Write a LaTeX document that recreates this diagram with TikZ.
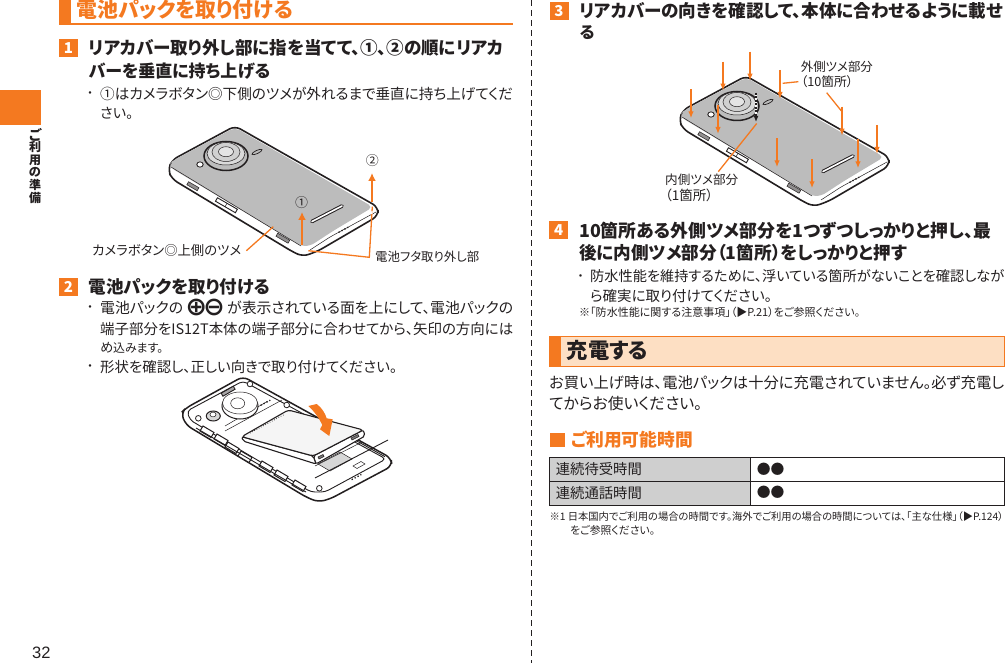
\documentclass[tikz,border=0pt]{standalone}
\usepackage{fontspec}
\setmainfont{Noto Sans CJK JP}[RawFeature=+palt, BoldFont={Noto Sans CJK JP Black}]
\newfontfamily\symfont{DejaVu Sans}
\newfontfamily\numfont{Liberation Sans}
\usetikzlibrary{arrows.meta}
\definecolor{pageorange}{HTML}{F47920}
\definecolor{inkdark}{HTML}{231F20}
\definecolor{phonegray}{HTML}{BCBCBC}
\definecolor{headpeach}{HTML}{FDDFC3}
\definecolor{cellgray}{HTML}{CFCFCF}
% text line stretched to the width it has on the page
\newcommand{\fitw}[2]{\resizebox{#1pt}{!}{\rule[-.12em]{0pt}{.88em}#2}}
\tikzset{
    linetext/.style={anchor=west, inner sep=0pt, text=inkdark},
    headtext/.style={linetext, font=\bfseries},
    orangehead/.style={linetext, text=pageorange, font=\bfseries},
    stepbadge/.style={fill=pageorange, text=white, font=\bfseries\fontsize{15}{15}\selectfont, inner sep=0pt, minimum width=19pt, minimum height=18pt},
    leader/.style={draw=pageorange, line width=1.3pt},
    liftarrow/.style={draw=pageorange, line width=1.8pt, -{Latex[length=8pt,width=8pt]}},
    pressarrow/.style={draw=pageorange, line width=1.6pt, -{Latex[length=7pt,width=5.5pt]}},
    partline/.style={draw=inkdark, line width=0.5pt},
    wallline/.style={draw=inkdark, line width=0.9pt},
    phoneback/.pic={
        % body
        \draw[fill=white, draw=inkdark, line width=1.6pt, rounded corners=6pt]
            (235,126) -- (378,207) -- (378,216) -- (318,251) -- (303,256.5) -- (293,252) -- (172,179) -- (168,170) -- (172,160) -- cycle;
        \fill[phonegray, rounded corners=5pt]
            (235,127.5) -- (373,207) -- (333,231) -- (310,246) -- (301,246) -- (171,168) -- (170,164) -- (173,160.5) -- cycle;
        \draw[partline] (171,167) -- (301,246);
        \draw[partline, rounded corners=4pt] (376,212) -- (330,237) -- (310,250);
        % lens and flash
        \draw[fill=phonegray, draw=inkdark, line width=1.5pt] (226,156) ellipse [x radius=22pt, y radius=14.5pt];
        \draw[fill=phonegray!55!white, partline] (226,153.5) ellipse [x radius=19pt, y radius=11.5pt];
        \draw[fill=phonegray!70!white, partline] (226,152) ellipse [x radius=14pt, y radius=9.5pt];
        \draw[fill=phonegray!40!white, partline] (226,151.7) ellipse [x radius=7.5pt, y radius=5pt];
        \draw[fill=white, draw=inkdark, line width=0.8pt] (200,164.5) ellipse [x radius=3.2pt, y radius=2.6pt];
        \draw[partline, line width=0.7pt, rotate around={25:(257,152)}] (257,152) ellipse [x radius=5.5pt, y radius=1.6pt];
        % speaker
        \draw[draw=inkdark, line width=3.6pt, line cap=round] (312,221.5) -- (342,206);
        \draw[white, line width=1.6pt, line cap=round] (312,221.5) -- (342,206);
        % side buttons
        \draw[fill=inkdark!50, partline, rotate around={-30:(193,186)}] (187,184.5) rectangle (199,188);
        \draw[fill=white, wallline, rotate around={-30:(226,205)}] (215,203) rectangle (238,207);
        \draw[partline, rotate around={-30:(226,205)}] (226,203) -- (226,207);
        \draw[fill=inkdark!50, partline, rotate around={-30:(283,238)}] (276,236.5) rectangle (290,240);
        \draw[line width=1.3pt, inkdark, dotted, rotate around={28:(343,230)}] (338,230) -- (349,230);
    }
}
\begin{document}
\begin{tikzpicture}[x=1pt, y=-1pt]
    \useasboundingbox (0,0) rectangle (1005,663);

    % Side tab and page frame
    \fill[pageorange] (0,90) rectangle (41,125);
    \foreach \c [count=\i] in {ご,利,用,の,準,備}
        \node (side\i) [inner sep=0pt, text=inkdark, font=\bfseries] at (35,{134.5+(\i-1)*12.7}) {\resizebox{12pt}{!}{\c}};
    \node (pagenum) [inner sep=0pt, text=inkdark, font=\numfont\fontsize{16.5}{16.5}\selectfont] at (41.3,653) {32};
    \draw[inkdark, line width=0.7pt, dash pattern=on 6pt off 4pt] (531.3,0) -- (531.3,663);

    % Left column: section title
    \fill[pageorange] (59,0) rectangle (71,25);
    \fill[pageorange] (59,23) rectangle (513,25);
    \node (titlepack) [orangehead] at (76.7,10) {\fitw{216}{電池パックを取り付ける}};

    % Step 1
    \node (stepone) [stepbadge] at (68.5,48) {1};
    \node (oneheadA) [headtext] at (88.5,48.5) {\fitw{415}{リアカバー取り外し部に指を当てて、①、②の順にリアカ}};
    \node (oneheadB) [headtext] at (88.5,71) {\fitw{181.5}{バーを垂直に持ち上げる}};
    \node (onedot) [linetext] at (87,94) {\fitw{6}{・}};
    \node (onetextA) [linetext] at (100,94) {\fitw{413}{①はカメラボタン◎下側のツメが外れるまで垂直に持ち上げてくだ}};
    \node (onetextB) [linetext] at (100,114) {\fitw{33}{さい。}};

    % Phone, back view
    \pic at (0,0) {phoneback};
    \draw[liftarrow] (302,245) -- (302,212);
    \draw[liftarrow] (372,201.7) -- (372,173);
    \node (markone) [inner sep=0pt, text=inkdark] at (301.7,202.7) {\fitw{13}{①}};
    \node (marktwo) [inner sep=0pt, text=inkdark] at (372.3,160.7) {\fitw{13}{②}};
    \node (labelcamera) [linetext] at (92,250.7) {\fitw{149}{カメラボタン◎上側のツメ}};
    \node (labelcover) [linetext] at (375,257) {\fitw{104}{電池フタ取り外し部}};
    \coordinate (tabtop) at (273.3,226.7);
    \coordinate (coverfork) at (369.3,257.3);
    \draw[leader] ([xshift=5pt]labelcamera.east) -- (tabtop);
    \draw[leader] (308.3,250.7) -- (coverfork) -- (372.3,206.7);
    \draw[white, line width=1.4pt] (372,211) -- (371.8,214);

    % Step 2
    \node (steptwo) [stepbadge] at (68.5,287) {2};
    \node (twohead) [headtext] at (88.5,287) {\fitw{181.5}{電池パックを取り付ける}};
    \node (twodotA) [linetext] at (87,308) {\fitw{6}{・}};
    \node (twotextA) [linetext] at (100,308) {\fitw{83}{電池パックの}};
    \node (polarity) [linetext, font=\symfont\bfseries] at (185.5,307.5) {\resizebox{39pt}{!}{⊕\kern-1.5pt⊖}};
    \node (twotextAb) [linetext] at (227,308) {\fitw{286}{が表示されている面を上にして、電池パックの}};
    \node (twotextB) [linetext] at (100,329) {\fitw{413}{端子部分をIS12T本体の端子部分に合わせてから、矢印の方向には}};
    \node (twotextC) [linetext] at (100,348) {\fitw{13}{め}};
    \node (twotextCb) [linetext] at (113,348) {\fitw{50}{込みます。}};
    \node (twodotB) [linetext] at (87,367) {\fitw{6}{・}};
    \node (twotextD) [linetext] at (100,367) {\fitw{297}{形状を確認し、正しい向きで取り付けてください。}};

    % Phone with the cover off
    \draw[fill=white, draw=inkdark, line width=1.5pt, rounded corners=6pt]
        (243,376.5) -- (391,458) -- (392,466) -- (330,499) -- (318,502) -- (306,497) -- (186,425) -- (181,413) -- (186,408) -- cycle;
    \draw[wallline, rounded corners=4pt] (243,381) -- (386,459) -- (325,492) -- (311,492) -- (190,420) -- (187,411) -- cycle;
    \draw[partline] (225,431) -- (282,400);
    \draw[partline] (225,426) -- (268,401);
    \draw[fill=white, draw=inkdark, line width=1pt] (240,406) ellipse [x radius=18pt, y radius=13pt];
    \draw[fill=white, partline] (240,403) ellipse [x radius=17.5pt, y radius=11pt];
    \draw[partline] (237.7,403.3) ellipse [x radius=7pt, y radius=5.5pt];
    \draw[fill=phonegray!60!white, draw=inkdark, line width=1pt] (213.3,416) ellipse [x radius=7pt, y radius=5pt];
    \draw[fill=white, partline] (213,414.5) ellipse [x radius=3pt, y radius=2.4pt];
    \foreach \hx/\hy in {198.3/418.3, 319.3/488.3, 286.7/405, 250/384}
        \draw[fill=white, draw=inkdark, line width=0.8pt] (\hx,\hy) circle (2.8pt);
    \draw[wallline, fill=inkdark!40, rotate around={30:(228,391)}] (221,389.5) rectangle (235,393);
    \draw[line width=1.3pt, inkdark, dotted, rotate around={28:(265,403)}] (260,403) -- (271,403);
    % slots along the long side
    \foreach \sx/\sy in {203/426, 217/434, 228/442, 241/451, 262/461, 277/470, 295/480}
        \draw[draw=inkdark, line width=1pt, fill=white] (\sx,\sy) -- ++(11,6.5) -- ++(-3,5) -- ++(-11,-6.5) -- cycle;
    \draw[wallline] (196,428) -- (306,492);
    % bay under the pack
    \draw[partline, fill=phonegray!60!white] (318,464) -- (340,452) -- (352,459) -- (330,471) -- cycle;
    \draw[partline] (315,466) -- (362,442);
    \draw[wallline] (315,478) -- (388,440);
    \draw[wallline] (355,440) -- (385,456.7);
    \draw[partline] (353,466) -- (361,461.5) -- (365,464) -- (357,468.5) -- cycle;
    \draw[line width=1.3pt, inkdark, dotted, rotate around={28:(356.7,477)}] (351,477) -- (362,477);
    % battery pack
    \draw[fill=white, draw=inkdark, line width=1.1pt, rounded corners=2pt] (313.3,456) -- (363.3,430) -- (365,436) -- (316,464) -- cycle;
    \draw[fill=white, draw=inkdark, line width=1.1pt, rounded corners=2pt] (241.7,436.7) -- (313.3,456) -- (316,464) -- (243,441) -- cycle;
    \draw[fill=phonegray!15!white, draw=inkdark, line width=1.1pt, rounded corners=3pt] (241.7,436.7) -- (288.3,410) -- (363.3,430) -- (313.3,456) -- cycle;
    \draw[partline, fill=inkdark!60] (318,457) -- (323,454.5) -- (324,456.5) -- (319,459) -- cycle;
    \draw[partline, fill=inkdark!60] (351,438) -- (358,434.5) -- (359,436.5) -- (352,440) -- cycle;
    \draw[partline, dotted, line width=1pt] (250,433) -- (285,414);
    % seat arrow
    \fill[pageorange] (308.3,406) -- (316.7,404) .. controls (322,408) and (325,413) .. (326.7,418.3)
        -- (332.7,419.3) -- (329.3,436) -- (320,429.3) -- (322.3,425)
        .. controls (319,418) and (314,411) .. cycle;

    % Right column: step 3
    \node (stepthree) [stepbadge] at (559,11) {3};
    \node (threeheadA) [headtext] at (579.3,11.5) {\fitw{423.4}{リアカバーの向きを確認して、本体に合わせるように載せ}};
    \node (threeheadB) [headtext] at (579.3,33) {\fitw{15}{る}};

    % Phone with the claw arrows
    \pic at (511,-50) {phoneback};
    \foreach \ax/\ay in {691/89.3, 723/61.7, 750/51.7, 780/70, 842/106.7, 877/125, 858/139.3, 812/159.3, 777/138.3, 718/105}
        \draw[pressarrow] (\ax,\ay) -- ++(0,29);
    \draw[white, line width=1.8pt] (756,92.7) -- (756,116);
    \draw[inkdark, line width=1.2pt, dash pattern=on 2pt off 1.5pt, -{Latex[length=6pt,width=5pt]}] (756,92.7) -- (756,122);
    \node (labelouterA) [linetext] at (800.7,67.3) {\fitw{72}{外側ツメ部分}};
    \node (labelouterB) [linetext] at (800.7,82.3) {\fitw{52.3}{（10箇所）}};
    \node (labelinnerA) [linetext] at (665,180) {\fitw{73}{内側ツメ部分}};
    \node (labelinnerB) [linetext] at (665,195.7) {\fitw{48}{（1箇所）}};
    \coordinate (outerclawA) at (782.7,83.3);
    \coordinate (outerclawB) at (842,111.7);
    \coordinate (innerclaw) at (756.7,123.5);
    \draw[leader] (798.3,81.7) -- (outerclawA);
    \draw[leader] (826.7,92.7) -- (outerclawB);
    \draw[leader] (718.3,171.7) -- (innerclaw);

    % Step 4
    \node (stepfour) [stepbadge] at (558.8,230.5) {4};
    \node (fourheadA) [headtext] at (579,230.7) {\fitw{411.7}{10箇所ある外側ツメ部分を1つずつしっかりと押し、最}};
    \node (fourheadB) [headtext] at (579,253) {\fitw{327.7}{後に内側ツメ部分（1箇所）をしっかりと押す}};
    \node (fourdot) [linetext] at (577.5,276.7) {\fitw{6}{・}};
    \node (fourtextA) [linetext] at (590,276.7) {\fitw{414}{防水性能を維持するために、浮いている箇所がないことを確認しなが}};
    \node (fourtextB) [linetext] at (590,296) {\fitw{181.7}{ら確実に取り付けてください。}};
    \node (fournote) [linetext] at (579,312.7) {\fitw{281}{※「防水性能に関する注意事項」（▶P.21）をご参照ください。}};

    % Charging section
    \draw[pageorange, fill=headpeach, line width=1pt] (549.5,336.5) rectangle (1004,366.2);
    \fill[pageorange] (549,336) rectangle (561,367);
    \node (titlecharge) [headtext] at (566.7,351) {\fitw{81.3}{充電する}};
    \node (chargetextA) [linetext] at (549,383) {\fitw{455}{お買い上げ時は、電池パックは十分に充電されていません。必ず充電し}};
    \node (chargetextB) [linetext] at (549,404) {\fitw{153}{てからお使いください。}};
    \fill[pageorange] (549.7,433) rectangle (565,447);
    \node (titletime) [orangehead] at (570.7,440) {\fitw{122}{ご利用可能時間}};

    % Time table
    \fill[cellgray] (549.5,457.3) rectangle (750.7,505.3);
    \draw[inkdark, line width=0.9pt] (549.5,457.3) rectangle (1004.5,505.3);
    \draw[inkdark, line width=0.9pt] (549.5,481.3) -- (1004.5,481.3);
    \draw[inkdark, line width=0.9pt] (750.7,457.3) -- (750.7,505.3);
    \node (cellwait) [linetext] at (555.7,469.5) {\fitw{86}{連続待受時間}};
    \node (celltalk) [linetext] at (555.7,493) {\fitw{86}{連続通話時間}};
    \node (valwait) [linetext] at (756.7,469.5) {\fitw{27.6}{●●}};
    \node (valtalk) [linetext] at (756.7,493) {\fitw{27.6}{●●}};
    \node (timenoteA) [linetext] at (549.3,516.7) {\fitw{454}{※1 日本国内でご利用の場合の時間です。海外でご利用の場合の時間については、「主な仕様」（▶P.124）}};
    \node (timenoteB) [linetext] at (570,530.7) {\fitw{85}{をご参照ください。}};
\end{tikzpicture}
\end{document}
